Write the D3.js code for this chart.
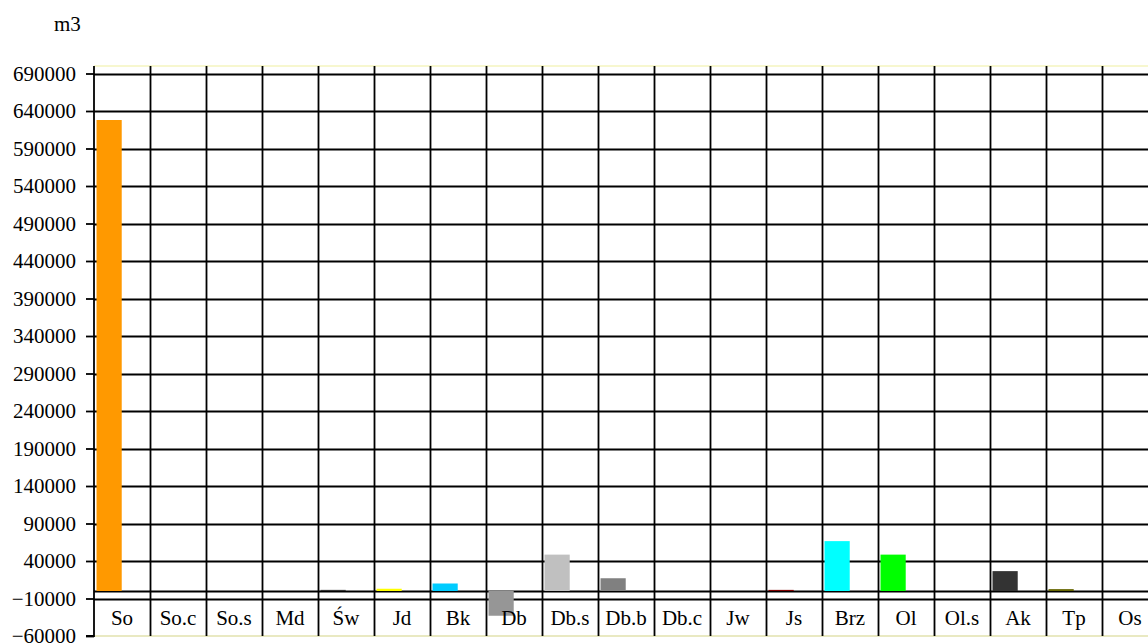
<!DOCTYPE html>
<html>
<head>
<meta charset="utf-8">
<script src="https://cdn.jsdelivr.net/npm/d3@7"></script>
<style>
  html, body { margin: 0; padding: 0; background: #fff; }
  svg { display: block; }
  text { font-family: "Liberation Serif", "Times New Roman", serif; fill: #000; }
</style>
</head>
<body>
<svg id="chart" width="1148" height="643"></svg>
<script>
const categories = ["So", "So.c", "So.s", "Md", "Św", "Jd", "Bk", "Db", "Db.s", "Db.b", "Db.c", "Jw", "Js", "Brz", "Ol", "Ol.s", "Ak", "Tp", "Os"];
const values = [628000, 0, 0, 0, 1500, 3000, 10000, -33000, 48500, 17000, 0, 0, 1500, 66500, 48500, 0, 26500, 2500, 0];
const barColors = ["#FF9900", "#000000", "#000000", "#000000", "#333333", "#FFFF00", "#00CCFF", "#969696", "#C0C0C0", "#808080", "#000000", "#000000", "#800000", "#00FFFF", "#00FF00", "#000000", "#333333", "#666600", "#000000"];
const yTickValues = [-60000, -10000, 40000, 90000, 140000, 190000, 240000, 290000, 340000, 390000, 440000, 490000, 540000, 590000, 640000, 690000];
const yDomain = [-60000, 700000];
const unitLabel = "m3";
const labelRowTop = -10000;

(function () {
const svg = d3.select("#chart");
const pLeft = 94, pTop = 66, pBottom = 636, bandW = 56;
const pRight = pLeft + bandW * categories.length;
const W = 1148;

const y = d3.scaleLinear().domain(yDomain).range([pBottom, pTop]);
const x = d3.scaleBand().domain(categories).range([pLeft, pRight]).paddingInner(0).paddingOuter(0);

// plot area border (pale)
svg.append("line").attr("x1", pLeft).attr("x2", W).attr("y1", pTop).attr("y2", pTop)
  .attr("stroke", "#f7f7cf").attr("stroke-width", 2);
svg.append("line").attr("x1", pLeft).attr("x2", W).attr("y1", pBottom).attr("y2", pBottom)
  .attr("stroke", "#e9e9c2").attr("stroke-width", 2);

// horizontal gridlines
const grid = svg.append("g");
grid.selectAll("line.h").data(yTickValues.filter(v => v > yDomain[0]))
  .join("line").attr("class", "h")
  .attr("x1", pLeft).attr("x2", W)
  .attr("y1", d => Math.round(y(d)) + 0.5).attr("y2", d => Math.round(y(d)) + 0.5)
  .attr("stroke", "#000").attr("stroke-width", 1.8);
// zero line
grid.append("line").attr("x1", pLeft).attr("x2", W)
  .attr("y1", Math.round(y(0)) + 0.5).attr("y2", Math.round(y(0)) + 0.5)
  .attr("stroke", "#000").attr("stroke-width", 1.8);

// vertical gridlines at band boundaries
const bounds = categories.map(c => x(c)).concat([pRight]);
grid.selectAll("line.v").data(bounds.slice(1))
  .join("line").attr("class", "v")
  .attr("x1", d => Math.round(d) + 0.5).attr("x2", d => Math.round(d) + 0.5)
  .attr("y1", pTop).attr("y2", pBottom)
  .attr("stroke", "#000").attr("stroke-width", 1.8);

// bars
const bw = x.bandwidth();
svg.append("g").selectAll("rect").data(categories.map((c, i) => ({c, v: values[i], col: barColors[i]})))
  .join("rect")
  .attr("x", d => x(d.c) + bw * 0.045)
  .attr("width", bw * 0.45)
  .attr("y", d => y(Math.max(0, d.v)))
  .attr("height", d => Math.abs(y(d.v) - y(0)))
  .attr("fill", d => d.col);

// y axis
const yAxis = d3.axisLeft(y).tickValues(yTickValues).tickFormat(d3.format("d")).tickSize(8).tickPadding(10);
const ag = svg.append("g").attr("transform", `translate(${pLeft},0)`).call(yAxis);
ag.attr("font-family", null).attr("font-size", null);
ag.select(".domain").attr("d", `M-8,${pBottom}H0V${pTop}`).attr("stroke", "#000").attr("stroke-width", 1.8);
ag.selectAll(".tick line").attr("stroke", "#000").attr("stroke-width", 1.8);
ag.selectAll(".tick text").style("font-family", '"Liberation Serif", serif').style("font-size", "21px").attr("fill", "#000");

// category labels in the row between labelRowTop and the bottom
const rowMid = (y(labelRowTop) + pBottom) / 2;
svg.append("g").selectAll("text").data(categories)
  .join("text")
  .attr("x", d => x(d) + bw / 2)
  .attr("y", rowMid)
  .attr("dy", "0.35em")
  .attr("text-anchor", "middle")
  .style("font-size", "21px")
  .text(d => d);

// unit label
svg.append("text").attr("x", 54).attr("y", 31).style("font-size", "21px").text(unitLabel);
})();
</script>
</body>
</html>
